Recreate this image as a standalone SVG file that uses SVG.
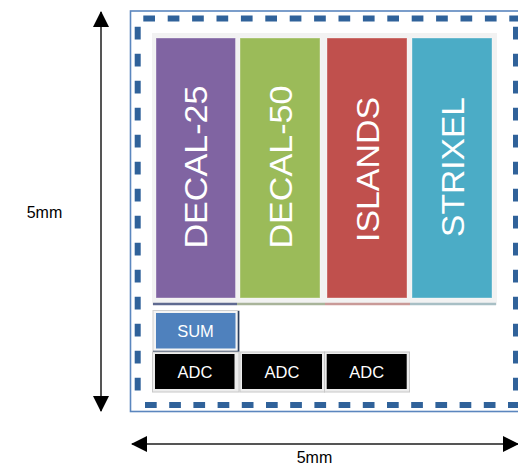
<svg xmlns="http://www.w3.org/2000/svg" width="518" height="465" viewBox="0 0 518 465">
<defs>
<style>
.lbl{font-family:"Liberation Sans",Arial,sans-serif;fill:#000;font-size:16px}
.col{stroke:#FFFFFF;stroke-opacity:0.35;stroke-width:1}
.colt{font-family:"Liberation Sans",Arial,sans-serif;fill:#FFFFFF;font-size:31px;text-anchor:middle}
.bt{font-family:"Liberation Sans",Arial,sans-serif;fill:#FFFFFF;font-size:16.5px;text-anchor:middle}
.dash{stroke:#30629A;stroke-width:6;fill:none}
.dim{stroke:#555555;stroke-width:2;fill:none}
</style>
<marker id="ah" viewBox="0 0 16 16" refX="15" refY="8" markerWidth="16" markerHeight="16" markerUnits="userSpaceOnUse" orient="auto-start-reverse">
<path d="M0,0 L16,8 L0,16 Z" fill="#000"/>
</marker>
</defs>
<rect width="518" height="465" fill="#FFFFFF"/>
<g id="chip-outline">
<rect x="130.5" y="11" width="395" height="400.5" fill="none" stroke="#5B86BE" stroke-width="1.6"/>
<line class="dash" x1="143.3" y1="18.5" x2="518" y2="18.5" stroke-dasharray="11.7 12.7"/>
<line class="dash" x1="145" y1="405" x2="518" y2="405" stroke-dasharray="11.7 12.5"/>
<line class="dash" x1="137.7" y1="26.7" x2="137.7" y2="400" stroke-dasharray="12.7 14.3"/>
<line class="dash" x1="516" y1="26.7" x2="516" y2="400" stroke-dasharray="12.7 14.3"/>
</g>
<g id="panel">
<rect x="152" y="33" width="345" height="272" fill="#F2F2F2"/>
<line x1="153" y1="304" x2="237" y2="304" stroke="#5F6A90" stroke-width="2.5"/>
<line x1="237" y1="304" x2="325" y2="304" stroke="#A9B49A" stroke-width="2.5"/>
<line x1="325" y1="304" x2="410" y2="304" stroke="#C99A98" stroke-width="2.5"/>
<line x1="410" y1="304" x2="496" y2="304" stroke="#A8BFC5" stroke-width="2.5"/>
</g>
<g id="decal-25">
<rect class="col" x="156" y="38" width="79.5" height="260" fill="#8064A2"/>
<text class="colt" transform="translate(207,167) rotate(-90)" x="0" y="0" textLength="163" lengthAdjust="spacingAndGlyphs">DECAL-25</text>
</g>
<g id="decal-50">
<rect class="col" x="240" y="38" width="80" height="260" fill="#9BBB59"/>
<text class="colt" transform="translate(291.5,167) rotate(-90)" x="0" y="0" textLength="163" lengthAdjust="spacingAndGlyphs">DECAL-50</text>
</g>
<g id="islands">
<rect class="col" x="327" y="38" width="80" height="260" fill="#C0504D"/>
<text class="colt" transform="translate(379,169.5) rotate(-90)" x="0" y="0" textLength="145" lengthAdjust="spacingAndGlyphs">ISLANDS</text>
</g>
<g id="strixel">
<rect class="col" x="412" y="38" width="80" height="260" fill="#4BACC6"/>
<text class="colt" transform="translate(463.5,167) rotate(-90)" x="0" y="0" textLength="140" lengthAdjust="spacingAndGlyphs">STRIXEL</text>
</g>
<g id="sum">
<rect x="153" y="310.5" width="86" height="41" fill="#F4F4F4" stroke="#D0D0D0" stroke-width="1"/>
<line x1="238.5" y1="311" x2="238.5" y2="352" stroke="#2B3F5E" stroke-width="1.6"/>
<line x1="153" y1="351.5" x2="239" y2="351.5" stroke="#2B3F5E" stroke-width="1.6"/>
<rect x="156" y="313" width="79.5" height="35.5" fill="#4F81BD"/>
<text class="bt" x="195.5" y="336.7" font-size="16">SUM</text>
</g>
<g id="adc-1">
<rect x="152.5" y="352" width="86.5" height="40" fill="#EDEDED" stroke="#C8C8C8" stroke-width="1"/>
<rect x="155" y="354" width="79.5" height="35" fill="#000000"/>
<text class="bt" x="195" y="378">ADC</text>
</g>
<g id="adc-2">
<rect x="240" y="352" width="84.5" height="40" fill="#EDEDED" stroke="#C8C8C8" stroke-width="1"/>
<rect x="242" y="354" width="80" height="35" fill="#000000"/>
<text class="bt" x="282" y="378">ADC</text>
</g>
<g id="adc-3">
<rect x="324.5" y="352" width="85" height="40" fill="#EDEDED" stroke="#C8C8C8" stroke-width="1"/>
<rect x="326.7" y="354" width="80" height="35" fill="#000000"/>
<text class="bt" x="366.7" y="378">ADC</text>
</g>
<g id="connectors">
<line class="dim" x1="101" y1="12" x2="101" y2="411" marker-start="url(#ah)" marker-end="url(#ah)"/>
<line class="dim" x1="132" y1="444" x2="518" y2="444" marker-start="url(#ah)" marker-end="url(#ah)"/>
</g>
<g id="labels">
<text class="lbl" x="26.7" y="217.5" font-size="16.5">5mm</text>
<text class="lbl" x="296.7" y="463.3" font-size="16.5">5mm</text>
</g>
</svg>
